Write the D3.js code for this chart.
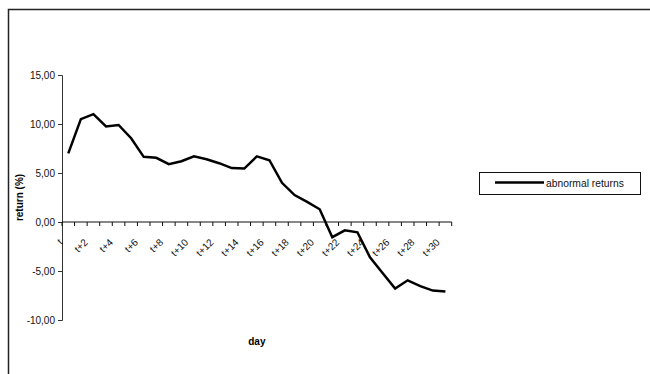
<!DOCTYPE html>
<html>
<head>
<meta charset="utf-8">
<script src="https://cdn.jsdelivr.net/npm/d3@7"></script>
<style>
  body { margin: 0; background: #fff; }
  svg { display: block; font-family: Arial, "Liberation Sans", sans-serif; }
</style>
</head>
<body>
<svg width="650" height="374"></svg>
<script>
const days = ["t", "t+1", "t+2", "t+3", "t+4", "t+5", "t+6", "t+7", "t+8", "t+9", "t+10",
  "t+11", "t+12", "t+13", "t+14", "t+15", "t+16", "t+17", "t+18", "t+19", "t+20",
  "t+21", "t+22", "t+23", "t+24", "t+25", "t+26", "t+27", "t+28", "t+29", "t+30"];
const returns = [7.0, 10.5, 11.0, 9.75, 9.9, 8.55, 6.65, 6.55, 5.9, 6.2, 6.7,
  6.4, 6.0, 5.5, 5.45, 6.7, 6.3, 4.0, 2.75, 2.05, 1.3,
  -1.55, -0.85, -1.05, -3.6, -5.2, -6.8, -5.95, -6.55, -7.0, -7.1];
const yTicks = [-10, -5, 0, 5, 10, 15];
const seriesName = "abnormal returns";

const svg = d3.select("svg");

// outer chart border (runs off the right and bottom)
svg.append("rect")
    .attr("x", 8.5).attr("y", 9.5)
    .attr("width", 700).attr("height", 400)
    .attr("fill", "none").attr("stroke", "#222").attr("stroke-width", 1.5);

const x = d3.scaleBand()
    .domain(days)
    .range([62, 451.7])
    .padding(0);

const y = d3.scaleLinear()
    .domain([-10, 15])
    .range([320, 75]);

const cx = d => x(d) + x.bandwidth() / 2;
const fmt = v => d3.format(".2f")(v).replace(".", ",").replace("−", "-");

// Y axis
const yAxis = svg.append("g")
    .attr("transform", "translate(62,0)")
    .call(d3.axisLeft(y).tickValues(yTicks).tickSize(4).tickPadding(3).tickFormat(fmt));
yAxis.select(".domain").attr("stroke", "#333");
yAxis.selectAll(".tick line").attr("stroke", "#333");
yAxis.selectAll("text").attr("font-size", 10).attr("fill", "#111")
    .attr("font-family", "Arial, 'Liberation Sans', sans-serif");

// X axis at zero
const xAxis = svg.append("g");
xAxis.append("line")
    .attr("x1", x.range()[0]).attr("x2", x.range()[1])
    .attr("y1", y(0)).attr("y2", y(0))
    .attr("stroke", "#111");
xAxis.selectAll(".tk")
    .data(days.concat([null]))
    .enter().append("line")
    .attr("x1", (d, i) => x.range()[0] + i * x.bandwidth())
    .attr("x2", (d, i) => x.range()[0] + i * x.bandwidth())
    .attr("y1", y(0)).attr("y2", y(0) + 4)
    .attr("stroke", "#111");
xAxis.selectAll(".lbl")
    .data(days.filter((d, i) => i % 2 === 0))
    .enter().append("text")
    .attr("transform", d => `translate(${cx(d) - 5},${y(0) + 21}) rotate(-45)`)
    .attr("text-anchor", "end")
    .attr("font-size", 10)
    .attr("fill", "#111")
    .text(d => d);

// series line
const line = d3.line()
    .x((d, i) => cx(days[i]))
    .y(d => y(d));
svg.append("path")
    .datum(returns)
    .attr("d", line)
    .attr("fill", "none")
    .attr("stroke", "#000")
    .attr("stroke-width", 2.5)
    .attr("stroke-linejoin", "miter");

// axis titles
svg.append("text")
    .attr("transform", `translate(23,${(y(15) + y(-10)) / 2}) rotate(-90)`)
    .attr("text-anchor", "middle")
    .attr("font-size", 10).attr("font-weight", "bold")
    .text("return (%)");
svg.append("text")
    .attr("x", (x.range()[0] + x.range()[1]) / 2)
    .attr("y", 345)
    .attr("text-anchor", "middle")
    .attr("font-size", 10).attr("font-weight", "bold")
    .text("day");

// legend
const legend = svg.append("g");
legend.append("rect")
    .attr("x", 479.5).attr("y", 172.5)
    .attr("width", 161).attr("height", 22)
    .attr("fill", "#fff").attr("stroke", "#111");
legend.append("line")
    .attr("x1", 495).attr("x2", 544)
    .attr("y1", 182.5).attr("y2", 182.5)
    .attr("stroke", "#000").attr("stroke-width", 2.5);
legend.append("text")
    .attr("x", 546).attr("y", 186.5)
    .attr("font-size", 10.3).attr("fill", "#111")
    .text(seriesName);
</script>
</body>
</html>
